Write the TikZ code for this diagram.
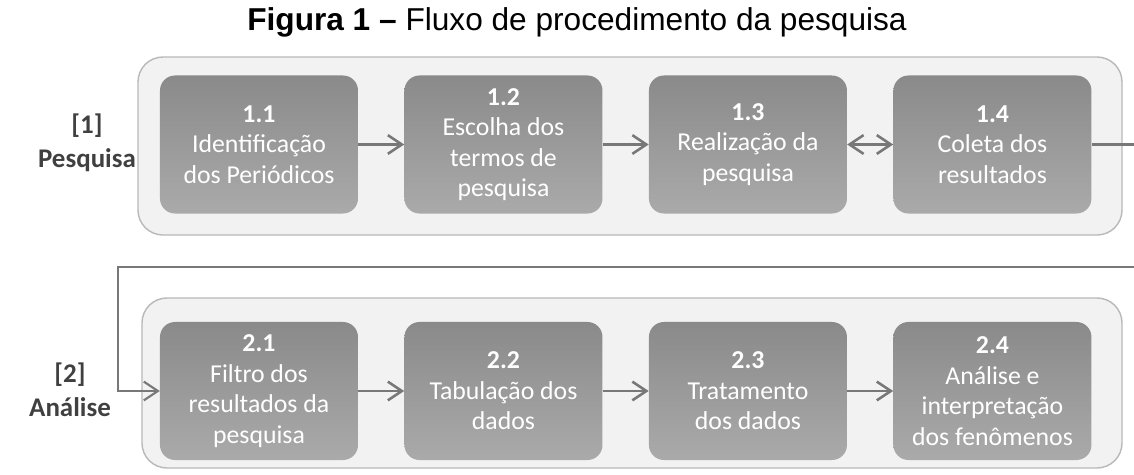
\documentclass[tikz,border=0pt]{standalone}
\usepackage{fontspec}
\setmainfont{Carlito}
\newfontfamily\titlefont{Liberation Sans}
\usepackage{tikz}
\usetikzlibrary{arrows.meta,positioning}
\definecolor{framefill}{RGB}{242,242,242}
\definecolor{frameline}{RGB}{185,185,185}
\definecolor{boxtop}{RGB}{138,138,138}
\definecolor{boxbottom}{RGB}{170,170,170}
\definecolor{linegray}{RGB}{120,120,120}
\definecolor{labelgray}{RGB}{64,64,64}

\begin{document}
\begin{tikzpicture}[
    x=0.03cm, y=-0.03cm,
    frame/.style={rectangle, draw=frameline, line width=1.2pt, fill=framefill, rounded corners=0.75cm},
    box/.style={rectangle, rounded corners=0.45cm, top color=boxtop, bottom color=boxbottom, minimum width=5.94cm, minimum height=4.14cm, inner sep=0pt, align=center, text=white, font=\fontsize{22}{26}\selectfont},
    stage/.style={align=center, text=labelgray, font=\fontsize{23}{29}\selectfont\bfseries},
    arrow/.style={-{Straight Barb[length=12pt, width=16pt]}, line width=2.2pt, draw=linegray},
    twoway/.style={{Straight Barb[length=12pt, width=16pt]}-{Straight Barb[length=12pt, width=16pt]}, line width=2.2pt, draw=linegray}
]
    \useasboundingbox (0,0) rectangle (1134,475);

    % Title
    \node[font=\titlefont\fontsize{27}{30}\selectfont] (title) at (577,22) {\textbf{Figura 1 –} Fluxo de procedimento da pesquisa};

    % Frames
    \node[frame, minimum width=29.52cm, minimum height=5.34cm] (frame1) at (630,146) {};
    \node[frame, minimum width=29.4cm, minimum height=5.1cm] (frame2) at (632,383) {};

    % Stage labels
    \node[stage] (lab1) at (87,143) {[1]\\Pesquisa};
    \node[stage] (lab2) at (70,390) {[2]\\Análise};

    % Row 1
    \node[box] (box11) at (259,144.5) {\textbf{1.1}\\Identificação\\dos Periódicos};
    \node[box, right=1.38cm of box11] (box12) {\textbf{1.2}\\Escolha dos\\termos de\\pesquisa};
    \node[box, right=1.38cm of box12] (box13) {\textbf{1.3}\\Realização da\\pesquisa};
    \node[box, right=1.38cm of box13] (box14) {\textbf{1.4}\\Coleta dos\\resultados};

    % Row 2
    \node[box] (box21) at (259,391) {\textbf{2.1}\\Filtro dos\\resultados da\\pesquisa};
    \node[box, right=1.38cm of box21] (box22) {\textbf{2.2}\\Tabulação dos\\dados};
    \node[box, right=1.38cm of box22] (box23) {\textbf{2.3}\\Tratamento\\dos dados};
    \node[box, right=1.38cm of box23] (box24) {\textbf{2.4}\\Análise e\\interpretação\\dos fenômenos};

    % Arrows
    \draw[arrow] (box11) -- (box12);
    \draw[arrow] (box12) -- (box13);
    \draw[twoway] (box13) -- (box14);
    \draw[arrow] (box21) -- (box22);
    \draw[arrow] (box22) -- (box23);
    \draw[arrow] (box23) -- (box24);

    % Link between rows
    \coordinate (edgeR) at (1145,267);
    \coordinate (turnL) at (118,267);
    \draw[arrow, line width=1.8pt] (box14.east) -- (box14.east -| edgeR) |- (turnL) |- (box21.west);
\end{tikzpicture}
\end{document}
